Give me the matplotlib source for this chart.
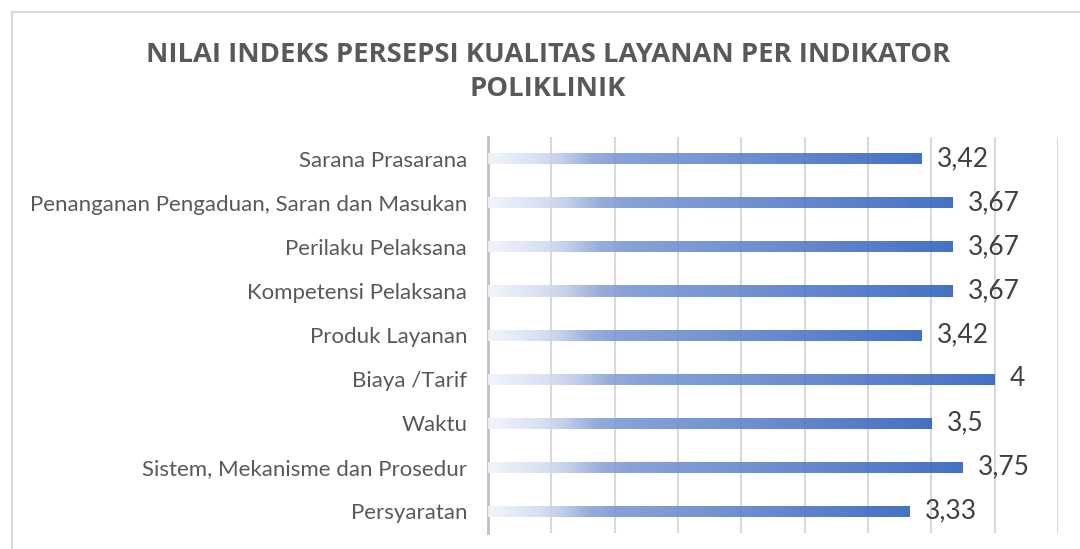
import numpy as np
import matplotlib
matplotlib.use("Agg")
import matplotlib.pyplot as plt
from matplotlib.colors import LinearSegmentedColormap
from matplotlib.patches import Rectangle

categories = ["Persyaratan", "Sistem, Mekanisme dan Prosedur", "Waktu", "Biaya /Tarif",
              "Produk Layanan", "Kompetensi Pelaksana", "Perilaku Pelaksana",
              "Penanganan Pengaduan, Saran dan Masukan", "Sarana Prasarana"]
values = [3.33, 3.75, 3.5, 4, 3.42, 3.67, 3.67, 3.67, 3.42]
value_labels = ["3,33", "3,75", "3,5", "4", "3,42", "3,67", "3,67", "3,67", "3,42"]
title = "NILAI INDEKS PERSEPSI KUALITAS LAYANAN PER INDIKATOR\nPOLIKLINIK"

W, H = 1080, 549
fig = plt.figure(figsize=(W / 100, H / 100), dpi=100)
fig.patch.set_facecolor("white")

# chart border
fig.patches.append(Rectangle((12 / W, -0.1), 1.2, 1 - 12 / H + 0.1, transform=fig.transFigure,
                             fill=False, edgecolor="#D9D9D9", linewidth=1.5))

ax = fig.add_axes([488 / W, 1 - 533 / H, (1058 - 488) / W, (533 - 137) / H])
ax.set_facecolor("none")

alpha = 0.9
stops = [(0.0, (242, 245, 251)), (0.12, (215, 224, 242)), (0.17, (195, 208, 236)),
         (0.24, (150, 172, 220)), (0.30, (135, 162, 217)), (0.50, (118, 150, 210)),
         (0.75, (95, 130, 204)), (1.0, (68, 114, 196))]
comp = []
for p, c in stops:
    cc = tuple(min(1, max(0, (ch / 255 - (1 - alpha)) / alpha)) for ch in c)
    comp.append((p, cc))
cmap = LinearSegmentedColormap.from_list("grad", comp)
grad = np.linspace(0, 1, 256).reshape(1, -1)
bh = 0.25
y = np.arange(len(categories))
for yi, v in zip(y, values):
    ax.imshow(grad, cmap=cmap, aspect="auto", extent=[0, v, yi - bh / 2, yi + bh / 2],
              interpolation="bilinear", zorder=3, alpha=alpha)

for yi, v, lab in zip(y, values, value_labels):
    ax.annotate(lab, (v, yi), xytext=(11, 0), textcoords="offset points",
                ha="left", va="center", fontsize=19, color="#404040", family="Lato", zorder=4)

ax.set_xlim(0, 4.5)
ax.set_ylim(-0.5, len(categories) - 0.5)
ax.set_xticks(np.arange(0, 4.51, 0.5))
ax.xaxis.grid(True, color="#D9D9D9", linewidth=1.5, zorder=0)
ax.tick_params(axis="x", length=0, labelbottom=False)
ax.set_yticks(y)
ax.set_yticklabels(categories, fontsize=16, color="#595959", family="Lato")
ax.tick_params(axis="y", length=0, pad=15)
for s in ["top", "right", "bottom"]:
    ax.spines[s].set_visible(False)
ax.spines["left"].set_color("#BFBFBF")
ax.spines["left"].set_linewidth(2)
ax.set_axisbelow(True)

fig.text(548 / W, 1 - 72 / H, title, ha="center", va="center", fontsize=19.7, fontweight="bold",
         color="#595959", family="Open Sans", linespacing=1.38)

fig.savefig("out.png", dpi=100)
